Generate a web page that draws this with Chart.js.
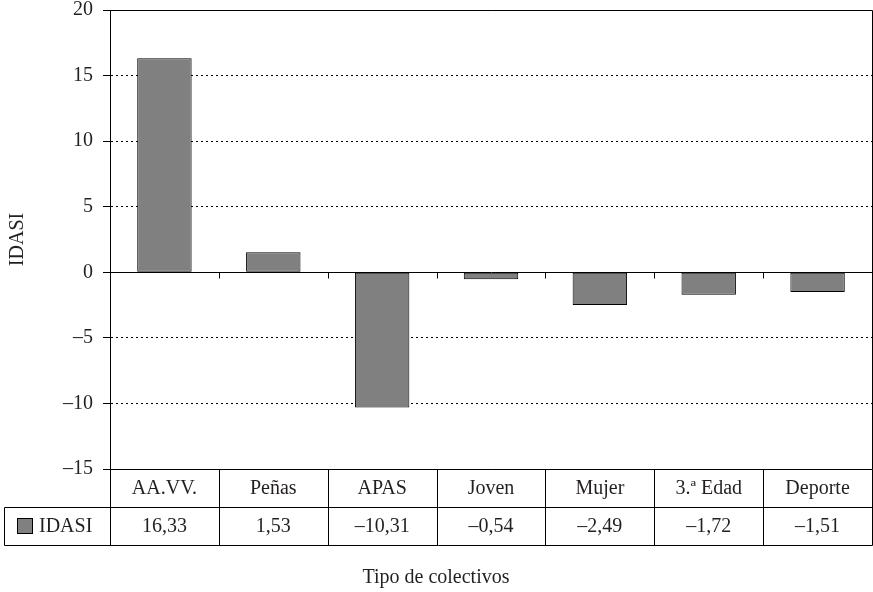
<!DOCTYPE html>
<html>
<head>
<meta charset="utf-8">
<script src="https://cdn.jsdelivr.net/npm/chart.js@4"></script>
<style>
  html, body { margin: 0; padding: 0; background: #fff; }
  #wrap { width: 873px; height: 592px; }
</style>
</head>
<body>
<div id="wrap"><canvas id="chart" width="873" height="592"></canvas></div>
<script>
const categories = ['AA.VV.', 'Peñas', 'APAS', 'Joven', 'Mujer', '3.ª Edad', 'Deporte'];
const idasi = [16.33, 1.53, -10.31, -0.54, -2.49, -1.72, -1.51];
const idasiText = ['16,33', '1,53', '–10,31', '–0,54', '–2,49', '–1,72', '–1,51'];
const yTickLabels = ['–15', '–10', '–5', '0', '5', '10', '15', '20'];

const FONT = '"Liberation Serif", "DejaVu Serif", serif';
const TXT = '#231f20';
const BAR = '#808080';

// draws the frame, the ticks on the zero line and the data table under the plot
const tablePlugin = {
  id: 'dataTable',
  afterDraw(chart) {
    const { ctx, chartArea: a, scales: { x, y } } = chart;
    const px = v => Math.round(v) + 0.5;
    const half = (x.getPixelForValue(1) - x.getPixelForValue(0)) / 2;
    const rowH = 38;
    const top = a.bottom, mid = top + rowH, bot = top + 2 * rowH;
    const legLeft = 4;

    ctx.save();
    ctx.strokeStyle = '#000';
    ctx.lineWidth = 1;
    ctx.beginPath();
    // plot frame
    ctx.moveTo(px(a.left), px(a.top)); ctx.lineTo(px(a.right), px(a.top));
    ctx.lineTo(px(a.right), px(a.bottom)); ctx.lineTo(px(a.left), px(a.bottom));
    // ticks hanging from the zero line
    const y0 = px(y.getPixelForValue(0));
    for (let i = 0; i <= categories.length; i++) {
      const xb = px(x.getPixelForValue(0) - half + i * 2 * half);
      ctx.moveTo(xb, y0); ctx.lineTo(xb, y0 + 6);
    }
    // table grid
    for (let i = 0; i <= categories.length; i++) {
      const xb = px(x.getPixelForValue(0) - half + i * 2 * half);
      ctx.moveTo(xb, px(top)); ctx.lineTo(xb, px(bot));
    }
    ctx.moveTo(px(legLeft), px(mid)); ctx.lineTo(px(a.right), px(mid));
    ctx.moveTo(px(legLeft), px(bot)); ctx.lineTo(px(a.right), px(bot));
    ctx.moveTo(px(legLeft), px(mid)); ctx.lineTo(px(legLeft), px(bot));
    ctx.stroke();

    // legend key
    ctx.fillStyle = BAR;
    ctx.fillRect(px(17), px(mid + 11), 15, 15);
    ctx.strokeRect(px(17), px(mid + 11), 15, 15);

    ctx.fillStyle = TXT;
    ctx.font = '20px ' + FONT;
    ctx.textBaseline = 'middle';
    ctx.textAlign = 'left';
    ctx.fillText(chart.data.datasets[0].label, 39, mid + rowH / 2 + 1);
    ctx.textAlign = 'center';
    categories.forEach((c, i) => {
      const cx = x.getPixelForValue(i);
      ctx.fillText(c, cx, top + rowH / 2 + 1);
      ctx.fillText(idasiText[i], cx, mid + rowH / 2 + 1);
    });
    ctx.restore();
  }
};

new Chart(document.getElementById('chart'), {
  type: 'bar',
  data: {
    labels: categories,
    datasets: [{
      label: 'IDASI',
      data: idasi,
      backgroundColor: BAR,
      borderColor: '#000',
      borderWidth: 1,
      borderSkipped: false,
      barPercentage: 0.5,
      categoryPercentage: 1
    }]
  },
  options: {
    responsive: false,
    animation: false,
    layout: { padding: { left: 0, right: 1, top: 0, bottom: 2 } },
    plugins: {
      legend: { display: false },
      tooltip: { enabled: false },
      title: {
        display: true,
        position: 'bottom',
        text: 'Tipo de colectivos',
        color: TXT,
        font: { family: FONT, size: 20, weight: 'normal' },
        padding: { top: 97, bottom: 0 }
      }
    },
    scales: {
      x: { display: false },
      y: {
        min: -15,
        max: 20,
        afterFit: s => { s.width = 110; s.paddingTop = 10; s.paddingBottom = 0; },
        title: {
          display: true,
          text: 'IDASI',
          color: TXT,
          font: { family: FONT, size: 20 },
          padding: { top: 6, bottom: 0 }
        },
        ticks: {
          stepSize: 5,
          padding: 10,
          color: TXT,
          font: { family: FONT, size: 20 },
          callback: (v, i) => yTickLabels[i]
        },
        grid: {
          color: '#000',
          lineWidth: 1,
          drawTicks: true,
          tickLength: 7,
          tickColor: '#000'
        },
        border: {
          display: true,
          color: '#000',
          width: 1,
          dash: c => (c.tick && c.tick.value !== 0 && c.tick.value !== -15 && c.tick.value !== 20) ? [2, 3] : []
        }
      }
    }
  },
  plugins: [tablePlugin]
});
</script>
</body>
</html>
